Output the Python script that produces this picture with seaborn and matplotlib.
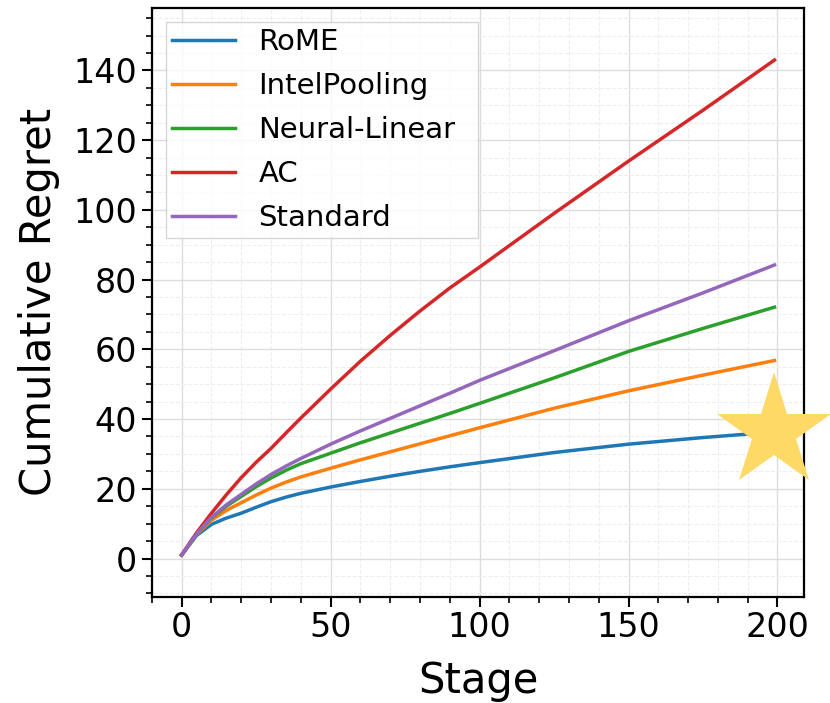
import seaborn as sns
import matplotlib.pyplot as plt
import pandas as pd
from matplotlib.ticker import MultipleLocator

stage = [0, 5, 10, 15, 20, 25, 30, 35, 40, 50, 60, 70, 80, 90, 100, 125, 150, 175, 199]

rome = [1.0, 6.6, 9.8, 11.6, 13.0, 14.7, 16.3, 17.6, 18.7, 20.5, 22.1, 23.6, 25.0, 26.3, 27.5, 30.4, 32.8, 34.7, 36.3]
intelpooling = [1.0, 6.9, 11.0, 13.8, 16.0, 18.2, 20.2, 21.9, 23.4, 25.9, 28.3, 30.6, 32.9, 35.2, 37.5, 43.1, 48.1, 52.6, 56.8]
neural_linear = [1.0, 7.1, 11.6, 15.0, 17.8, 20.6, 23.1, 25.3, 27.2, 30.2, 33.2, 36.0, 38.8, 41.6, 44.5, 51.8, 59.4, 66.0, 72.1]
ac = [1.0, 7.4, 13.0, 18.3, 23.2, 27.6, 31.6, 36.0, 40.3, 48.6, 56.6, 64.0, 71.0, 77.6, 83.6, 99.0, 114.0, 128.6, 143.0]
standard = [1.0, 7.1, 11.8, 15.4, 18.4, 21.4, 24.1, 26.5, 28.7, 32.8, 36.6, 40.2, 43.8, 47.4, 51.1, 59.6, 68.2, 76.2, 84.2]

methods = ["RoME", "IntelPooling", "Neural-Linear", "AC", "Standard"]
series = [rome, intelpooling, neural_linear, ac, standard]

rows = []
for name, vals in zip(methods, series):
    for s, v in zip(stage, vals):
        rows.append({"Stage": s, "Regret": v, "Method": name})
df = pd.DataFrame(rows)

fig = plt.figure(figsize=(8.3, 7.03), dpi=100)
ax = fig.add_axes([0.183, 0.151, 0.786, 0.838])

sns.lineplot(data=df, x="Stage", y="Regret", hue="Method", hue_order=methods,
             palette="tab10", linewidth=2.5, ax=ax)

# star at the end of RoME
ax.plot(stage[-1], rome[-1], marker="*", markersize=86, color="#ffd966",
        markeredgewidth=0, clip_on=False, zorder=10)

ax.set_xlim(-10, 209)
ax.set_ylim(-11, 158)
ax.xaxis.set_major_locator(MultipleLocator(50))
ax.xaxis.set_minor_locator(MultipleLocator(10))
ax.yaxis.set_major_locator(MultipleLocator(20))
ax.yaxis.set_minor_locator(MultipleLocator(5))

ax.grid(which="major", color="#dddddd", linewidth=1.0)
ax.grid(which="minor", color="#eeeeee", linestyle="--", linewidth=0.8)
ax.set_axisbelow(True)

ax.tick_params(which="major", labelsize=24, length=7, width=1.5)
ax.tick_params(which="minor", length=4, width=1.2)
for sp in ax.spines.values():
    sp.set_linewidth(1.6)

ax.set_xlabel("Stage", fontsize=30, labelpad=11)
ax.set_ylabel("Cumulative Regret", fontsize=30, labelpad=10)

leg = ax.legend(loc="upper left", bbox_to_anchor=(0, 0, 0.522, 1), mode="expand",
                fontsize=21, fancybox=False, handlelength=2.15,
                labelspacing=0.55, borderpad=0.2, edgecolor="#cccccc")
for line in leg.get_lines():
    line.set_linewidth(2.5)

fig.savefig("out.png", dpi=100)
